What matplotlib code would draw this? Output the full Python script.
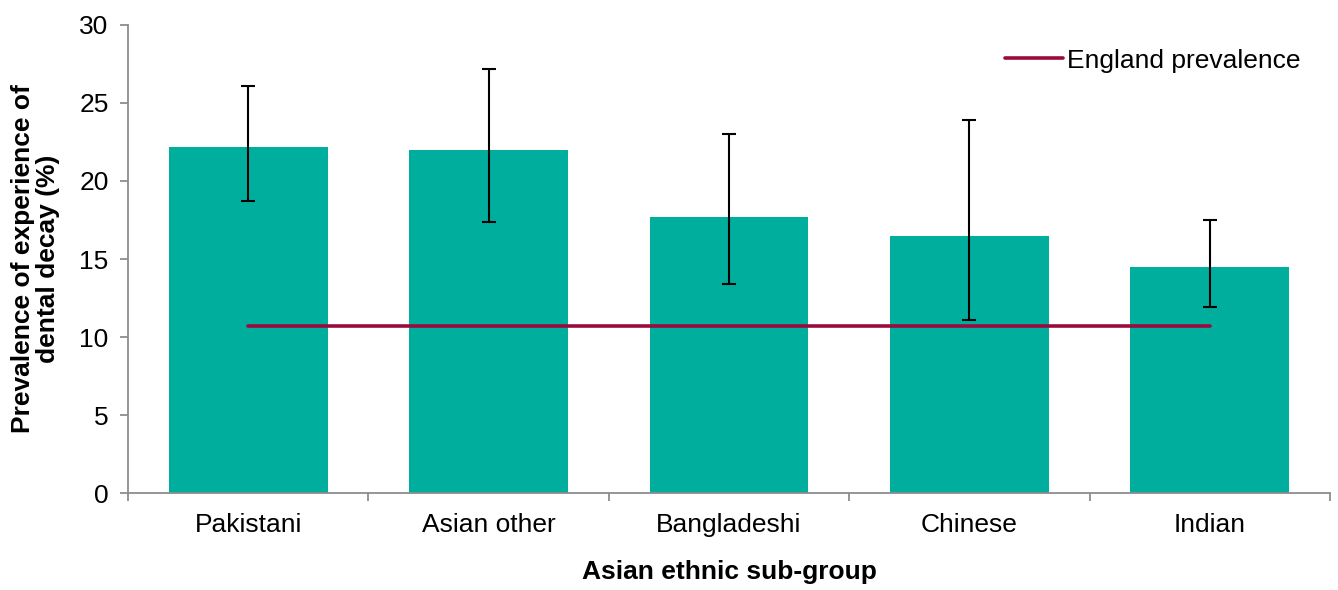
import numpy as np
import matplotlib
matplotlib.use("Agg")
import matplotlib.pyplot as plt

# values
groups = ["Pakistani", "Asian other", "Bangladeshi", "Chinese", "Indian"]
prevalence = [22.2, 22.0, 17.7, 16.5, 14.5]
ci_low = [18.7, 17.4, 13.4, 11.1, 11.9]
ci_high = [26.1, 27.2, 23.0, 23.9, 17.5]
england = 10.7

plt.rcParams['font.family'] = ['Liberation Sans', 'DejaVu Sans']

fig = plt.figure(figsize=(13.38, 5.9), dpi=100)
ax = fig.add_axes([0.0957, 0.164, 0.8983, 0.794])

x = np.arange(len(groups))
prev = np.array(prevalence)
yerr = [prev - np.array(ci_low), np.array(ci_high) - prev]

ax.bar(x, prev, width=0.66, color="#00AE9E", zorder=2)
ax.errorbar(x, prev, yerr=yerr, fmt="none", ecolor="black", elinewidth=1.5,
            capsize=5, capthick=1.5, zorder=4)
ax.plot(x, [england] * len(x), color="#9B0A3C", linewidth=2.6,
        solid_capstyle="round", label="England prevalence", zorder=3)

ax.set_xlim(-0.5, len(groups) - 0.5)
ax.set_ylim(0, 30)
ax.set_yticks(range(0, 31, 5))
ax.set_xticks(x)
ax.set_xticklabels(groups)
ax.set_xticks(np.arange(-0.5, len(groups)), minor=True)

for s in ["top", "right"]:
    ax.spines[s].set_visible(False)
for s in ["left", "bottom"]:
    ax.spines[s].set_color("#8c8c8c")
    ax.spines[s].set_linewidth(1.3)

ax.tick_params(axis="y", direction="out", length=6, width=1.3, color="#8c8c8c",
               labelsize=19, pad=8)
ax.tick_params(axis="x", which="major", length=0, labelsize=19, pad=14)
ax.tick_params(axis="x", which="minor", direction="out", length=6, width=1.3,
               color="#8c8c8c")

ax.set_ylabel("Prevalence of experience of\ndental decay (%)", fontsize=19,
              fontweight="bold", labelpad=14, linespacing=1.05)
ax.set_xlabel("Asian ethnic sub-group", fontsize=19, fontweight="bold",
              labelpad=17)

ax.legend(loc="upper right", frameon=False, fontsize=19, handlelength=2.2,
          handletextpad=0.15, bbox_to_anchor=(0.995, 1.0))

fig.savefig("out.png", dpi=100)
